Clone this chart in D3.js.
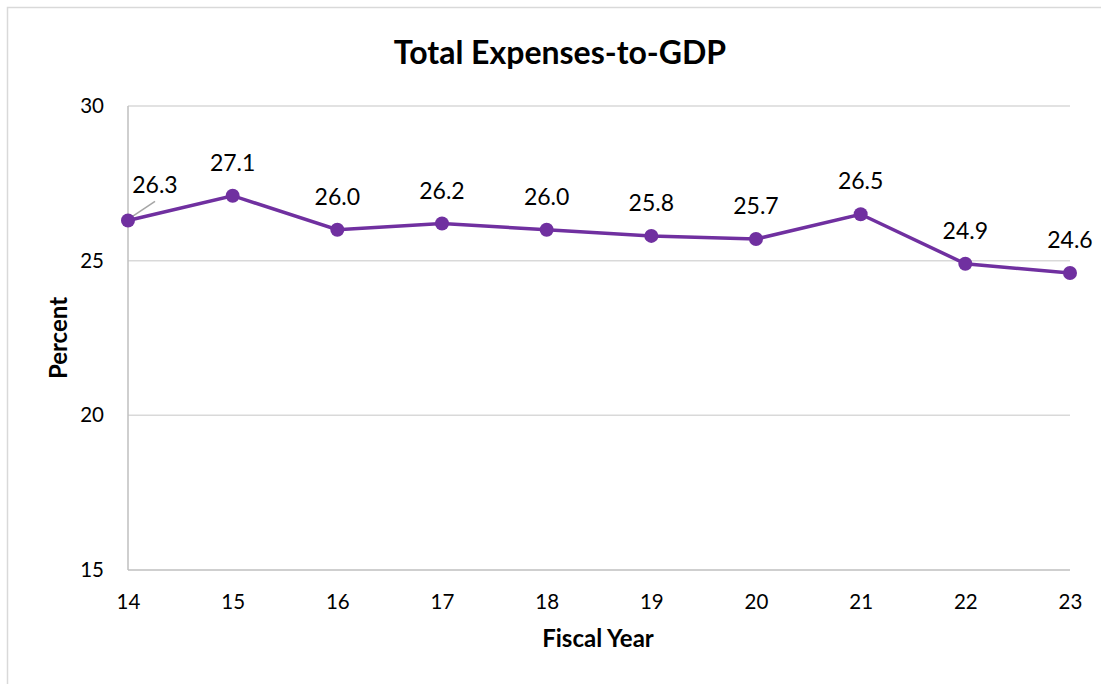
<!DOCTYPE html>
<html>
<head>
<meta charset="utf-8">
<script src="https://cdn.jsdelivr.net/npm/d3@7"></script>
<style>
  html, body { margin: 0; padding: 0; background: #fff; }
  svg { display: block; font-family: Lato, "Open Sans", sans-serif; }
</style>
</head>
<body>
<svg id="chart" width="1101" height="684"></svg>
<script>
// Fiscal years and total expenses as a share of GDP
const years = ["14", "15", "16", "17", "18", "19", "20", "21", "22", "23"];
const expensesPct = [26.3, 27.1, 26.0, 26.2, 26.0, 25.8, 25.7, 26.5, 24.9, 24.6];
const yTicks = [15, 20, 25, 30];

const svg = d3.select("#chart");
const W = 1101, H = 684;

// outer chart frame
svg.append("rect")
  .attr("x", 7.5).attr("y", 7.5)
  .attr("width", W + 20).attr("height", H + 20)
  .attr("fill", "none").attr("stroke", "#d9d9d9").attr("stroke-width", 1.5);

const plotLeft = 128, plotRight = 1070, plotTop = 106, plotBottom = 570;

const x = d3.scalePoint().domain(years).range([plotLeft, plotRight]);
const y = d3.scaleLinear().domain([15, 30]).range([plotBottom, plotTop]);

// horizontal gridlines
svg.append("g")
  .selectAll("line")
  .data(yTicks.filter(t => t !== 15))
  .join("line")
  .attr("x1", plotLeft).attr("x2", plotRight)
  .attr("y1", d => y(d)).attr("y2", d => y(d))
  .attr("stroke", "#d9d9d9").attr("stroke-width", 1.5);

// axis lines
svg.append("line")
  .attr("x1", plotLeft).attr("x2", plotLeft).attr("y1", plotTop).attr("y2", plotBottom)
  .attr("stroke", "#bfbfbf").attr("stroke-width", 1.5);
svg.append("line")
  .attr("x1", plotLeft).attr("x2", plotRight).attr("y1", plotBottom).attr("y2", plotBottom)
  .attr("stroke", "#bfbfbf").attr("stroke-width", 1.5);

// y tick labels
const yAxis = d3.axisLeft(y).tickValues(yTicks).tickSize(0).tickPadding(24);
svg.append("g")
  .attr("transform", `translate(${plotLeft},0)`)
  .call(yAxis)
  .call(g => g.select(".domain").remove())
  .call(g => g.selectAll("text")
    .attr("font-size", 20.5).attr("fill", "#000")
    .attr("font-family", "Lato, 'Open Sans', sans-serif"));

// x tick labels
const xAxis = d3.axisBottom(x).tickSize(0).tickPadding(24);
svg.append("g")
  .attr("transform", `translate(0,${plotBottom})`)
  .call(xAxis)
  .call(g => g.select(".domain").remove())
  .call(g => g.selectAll("text")
    .attr("font-size", 20.5).attr("fill", "#000")
    .attr("font-family", "Lato, 'Open Sans', sans-serif"));

// title and axis titles
svg.append("text")
  .attr("x", 560).attr("y", 64)
  .attr("text-anchor", "middle")
  .attr("font-size", 32).attr("font-weight", "bold")
  .text("Total Expenses-to-GDP");

svg.append("text")
  .attr("x", 598).attr("y", 647)
  .attr("text-anchor", "middle")
  .attr("font-size", 24).attr("font-weight", "bold")
  .text("Fiscal Year");

svg.append("text")
  .attr("transform", `translate(67,338) rotate(-90)`)
  .attr("text-anchor", "middle")
  .attr("font-size", 24).attr("font-weight", "bold")
  .text("Percent");

const pts = years.map((yr, i) => ({ yr, v: expensesPct[i] }));

// series line
svg.append("path")
  .datum(pts)
  .attr("fill", "none")
  .attr("stroke", "#7030a0")
  .attr("stroke-width", 3.5)
  .attr("d", d3.line().x(d => x(d.yr)).y(d => y(d.v)));

// leader line for the first label
svg.append("line")
  .attr("x1", x(years[0]) + 3).attr("y1", y(expensesPct[0]) - 3)
  .attr("x2", x(years[0]) + 27).attr("y2", y(expensesPct[0]) - 19)
  .attr("stroke", "#a6a6a6").attr("stroke-width", 1.5);

// markers
svg.append("g")
  .selectAll("circle")
  .data(pts)
  .join("circle")
  .attr("cx", d => x(d.yr)).attr("cy", d => y(d.v))
  .attr("r", 7)
  .attr("fill", "#7030a0");

// value labels
svg.append("g")
  .selectAll("text")
  .data(pts)
  .join("text")
  .attr("x", (d, i) => i === 0 ? x(d.yr) + 27 : x(d.yr))
  .attr("y", (d, i) => i === 0 ? y(d.v) - 27 : y(d.v) - 25)
  .attr("text-anchor", "middle")
  .attr("font-size", 23)
  .attr("fill", "#000")
  .text(d => d.v.toFixed(1));
</script>
</body>
</html>
